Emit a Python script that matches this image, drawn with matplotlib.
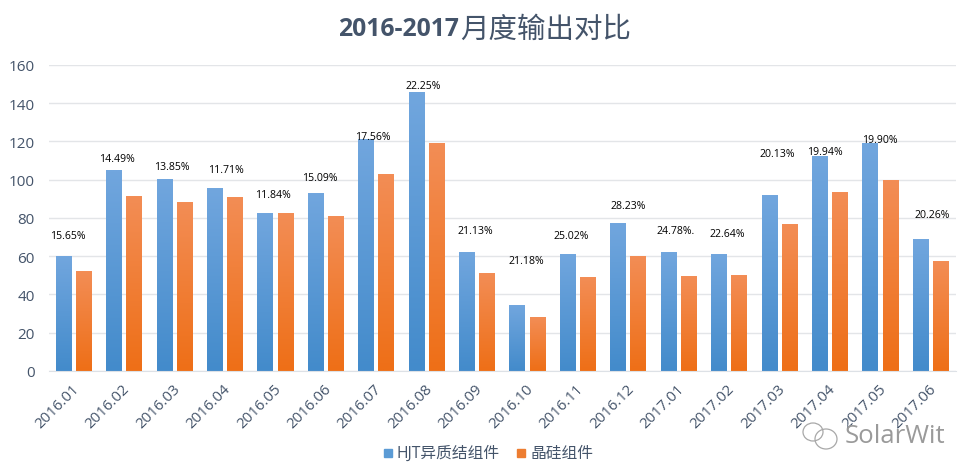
import numpy as np
import matplotlib
matplotlib.use("Agg")
import matplotlib.pyplot as plt
from matplotlib.patches import Ellipse, Rectangle
from matplotlib.transforms import ScaledTranslation

months = ["2016.01","2016.02","2016.03","2016.04","2016.05","2016.06","2016.07","2016.08","2016.09",
          "2016.10","2016.11","2016.12","2017.01","2017.02","2017.03","2017.04","2017.05","2017.06"]
hjt = [60,105,100,95.5,82.5,93,121,145.5,62,34,61,77,62,61,92,112,119,69]
crystal = [52,91,88,90.5,82.5,81,103,119,51,28,49,60,49.5,50,76.5,93.5,99.5,57.5]
gains = ["15.65%","14.49%","13.85%","11.71%","11.84%","15.09%","17.56%","22.25%","21.13%",
         "21.18%","25.02%","28.23%","24.78%.","22.64%","20.13%","19.94%","19.90%","20.26%"]
# label offsets from the top of the blue bar, in pixels
label_dx = [4,3,7,11,8,4,7,7,8,9,3,10,7,8,8,5,10,11]
label_dy = [21,11,13,19,19,15,3,7,22,45,19,18,22,21,41,5,4,24]

plt.rcParams["font.family"] = ["Open Sans", "Noto Sans CJK SC", "DejaVu Sans"]
TXT = "#44546A"
W, H = 971, 477
fig = plt.figure(figsize=(W/100, H/100), dpi=100)
L, R, T, B = 48.5, 956, 65.8, 371.8
ax = fig.add_axes([L/W, 1-B/H, (R-L)/W, (B-T)/H])
x = np.arange(len(months))
bw, off = 0.315, 0.2

def grad(top, bottom):
    c0, c1 = np.array(matplotlib.colors.to_rgb(top)), np.array(matplotlib.colors.to_rgb(bottom))
    t = np.linspace(0, 1, 64)[:, None]
    return (c0*(1-t)+c1*t)[:, None, :]

def gbars(xs, vals, top, bottom):
    bars = ax.bar(xs, vals, bw, color=bottom, zorder=2)
    img = grad(top, bottom)
    for b in bars:
        ax.imshow(img, extent=[b.get_x(), b.get_x()+b.get_width(), 0, b.get_height()],
                  aspect="auto", zorder=2.1, interpolation="bilinear")
    return bars

b1 = gbars(x-off, hjt, "#71A6DE", "#438BCB")
b2 = gbars(x+off, crystal, "#F38D55", "#EE6F17")
ax.set_xlim(-0.5, len(months)-0.5)
ax.set_ylim(0, 160)

ax.set_yticks(range(0, 161, 20))
ax.grid(axis="y", color="#E3E5E8", lw=1, zorder=0)
ax.set_axisbelow(True)
for s in ["top", "right", "left"]:
    ax.spines[s].set_visible(False)
ax.spines["bottom"].set_color("#DDE1E6")
ax.tick_params(axis="y", length=0, labelsize=11, labelcolor=TXT, pad=10)
ax.tick_params(axis="x", length=0, labelsize=10.8, labelcolor=TXT, pad=7.5)
ax.set_xticks(x)
ax.set_xticklabels(months, rotation=45, ha="right", rotation_mode="anchor")
shift = ScaledTranslation(-2/100, 0, fig.dpi_scale_trans)
for lab in ax.get_xticklabels():
    lab.set_transform(lab.get_transform() + shift)

for i, g in enumerate(gains):
    ax.annotate(g, (i-off, hjt[i]), xytext=(label_dx[i]*0.72, label_dy[i]*0.72),
                textcoords="offset points", ha="center", va="center",
                fontsize=7.6, color="black", zorder=5)

# title: bold latin part, regular CJK part
fig.canvas.draw()
t1 = fig.text(338/W, 1-30/H, "2016-2017", fontsize=17.8, fontweight="bold", color=TXT,
              ha="left", va="center", family="Open Sans")
ext = t1.get_window_extent(fig.canvas.get_renderer())
fig.text((ext.x1+1)/W, 1-30/H, "月度输出对比", fontsize=20.5, color=TXT, ha="left", va="center",
         family="Noto Sans CJK SC")

# legend
fig.patches.append(Rectangle((384/W, 1-458/H), 8/W, 8/H, transform=fig.transFigure, color="#5B9BD5", figure=fig))
fig.text(396/W, 1-454/H, "HJT异质结组件", fontsize=11.3, color=TXT, va="center")
fig.patches.append(Rectangle((517/W, 1-458/H), 8/W, 8/H, transform=fig.transFigure, color="#ED7D31", figure=fig))
fig.text(530/W, 1-454/H, "晶硅组件", fontsize=11.3, color=TXT, va="center")

# watermark
for cx, cy, ew, eh in [(813, 433, 20, 18), (826, 440, 22, 20)]:
    fig.patches.append(Ellipse((cx/W, 1-cy/H), ew/W, eh/H, transform=fig.transFigure,
                               fill=False, ec="#A8A8A8", lw=0.9, figure=fig))
fig.text(845/W, 1-437/H, "SolarWit", fontsize=18.5, color="#9A9A9A", va="center", family="Open Sans")

fig.savefig("out.png", dpi=100)
